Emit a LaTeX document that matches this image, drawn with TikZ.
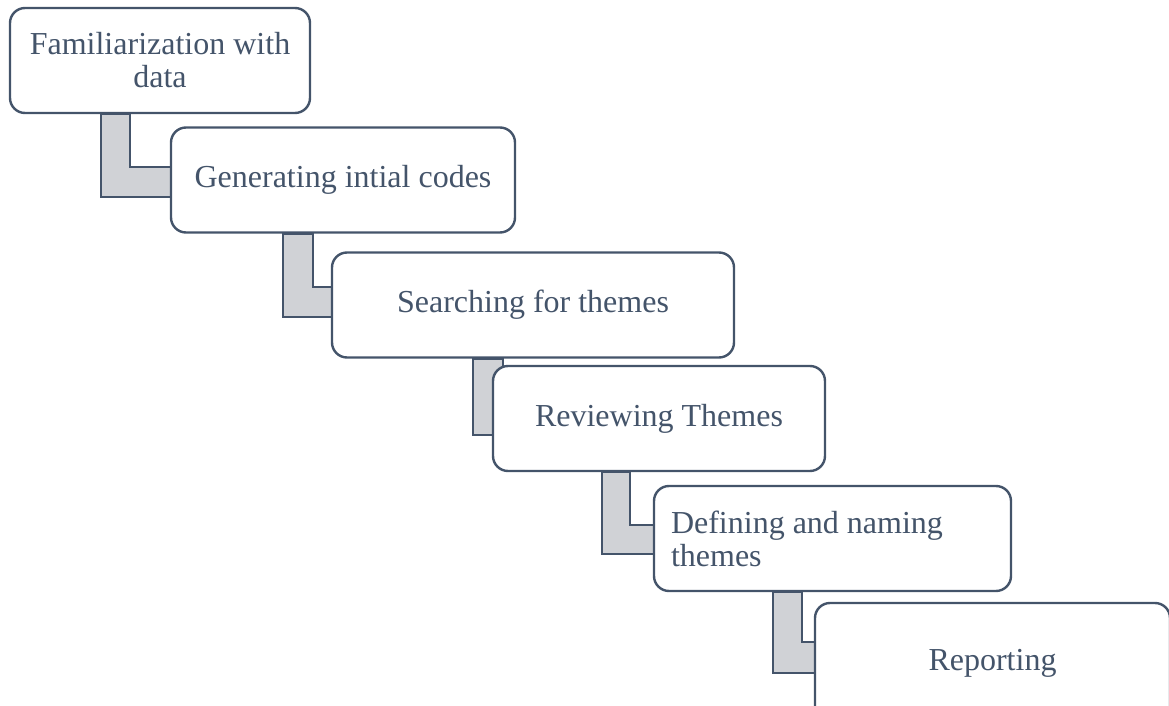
\documentclass[tikz,border=0pt]{standalone}
\usepackage{fontspec}
\setmainfont{Liberation Serif}
\usetikzlibrary{positioning, calc, backgrounds}
\usepackage{xcolor}
\definecolor{slate}{HTML}{44546A}
\definecolor{linkgray}{HTML}{D0D2D6}

\begin{document}
\begin{tikzpicture}[x=0.5pt, y=-0.5pt,
  stage/.style={draw=slate, line width=1.2pt, fill=white, rounded corners=7.5pt,
    minimum height=52.5pt, inner sep=0pt, text=slate,
    font=\fontsize{16}{16.5}\selectfont, align=center},
  link/.style={draw=slate, line width=1.2pt, fill=linkgray}]
\useasboundingbox (0,0) rectangle (1169,706);

% stages
\node[stage, minimum width=150pt] (fam) at (160,60.5) {Familiarization with\\data};
\node[stage, minimum width=172pt] (gen) at (343,180) {Generating intial codes};
\node[stage, minimum width=201pt] (search) at (533,305) {Searching for themes};
\node[stage, minimum width=166pt] (review) at (659,418.5) {Reviewing Themes};
\node[stage, inner xsep=8.5pt, text width=161.5pt, align=flush left] (define) at (832.5,538.5) {Defining and naming\\themes};
\node[stage, minimum width=177.5pt, minimum height=60pt] (report) at (992.5,663) {Reporting};

% bent links behind the stages
\begin{scope}[on background layer]
\draw[link] ($(fam.south west)+(92,0)$) |- ($(gen.west)+(10,17)$) -- ++(0,-30) -| ($(fam.south west)+(121,0)$) -- cycle;
\draw[link] ($(gen.south west)+(113,0)$) |- ($(search.west)+(10,12)$) -- ++(0,-30) -| ($(gen.south west)+(143,0)$) -- cycle;
\draw[link] ($(search.south west)+(142,0)$) |- ($(review.west)+(10,16.5)$) -- ++(0,-30) -| ($(search.south west)+(172,0)$) -- cycle;
\draw[link] ($(review.south west)+(110,0)$) |- ($(define.west)+(10,15.5)$) -- ++(0,-29) -| ($(review.south west)+(138,0)$) -- cycle;
\draw[link] ($(define.south west)+(120,0)$) |- ($(report.west)+(10,10)$) -- ++(0,-31) -| ($(define.south west)+(149,0)$) -- cycle;
\end{scope}
\end{tikzpicture}
\end{document}
